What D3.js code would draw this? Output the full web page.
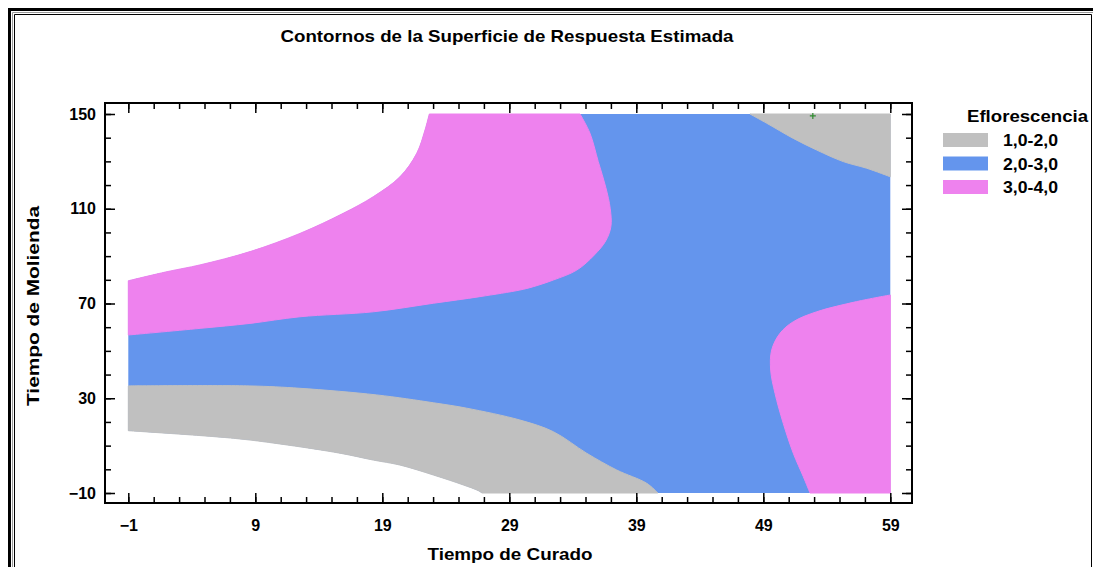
<!DOCTYPE html>
<html><head><meta charset="utf-8">
<script src="https://cdn.jsdelivr.net/npm/d3@7"></script>
<style>
body{margin:0;background:#fff;}
svg{display:block;font-family:"Liberation Sans",Arial,sans-serif;font-weight:bold;}
</style></head>
<body><svg id="c" width="1093" height="567"></svg>
<script>
// ---- data (Tiempo de Curado, Tiempo de Molienda) ----
const title = "Contornos de la Superficie de Respuesta Estimada";
const xTitle = "Tiempo de Curado";
const yTitle = "Tiempo de Molienda";
const legendTitle = "Eflorescencia";
const levels = ["1,0-2,0","2,0-3,0","3,0-4,0"];
const levelColors = ["#C0C0C0","#6495ED","#EE82EE"];
const xTicks = [-1,9,19,29,39,49,59];
const yTicks = [-10,30,70,110,150];
const xDomain = [-1,59];
const yDomain = [-10,150];

// contour boundaries
const lowerWhiteGray = [[-1,16.3],[7.27,13.1],[10.94,10.7],[15.67,6.8],[18.29,3.9],[20.39,1.8],[23.02,-2.4],[25.38,-6.6],[26.56,-9.0],[26.85,-10]];
const grayBlueLeft = [[-1,35.2],[8.58,35.2],[12.52,34.2],[18.56,31.4],[23.02,28.1],[25.65,25.8],[29.84,20.8],[32.46,15.9],[35.09,6.8],[37.46,-0.3],[39.82,-5.9],[40.7,-10]];
const bluePinkLeft = [[-1,56.7],[4.65,59.5],[8.58,61.6],[12.52,64.4],[18.29,66.5],[23.02,70.1],[26.69,72.9],[29.84,75.7],[30.89,77.1],[32.46,79.9],[34.31,84.1],[35.7,90.5],[36.6,96.5],[37.0,102.5],[36.95,110],[36.6,119],[36.0,130],[35.35,141.9],[34.57,150]];
const upperWhitePink = [[-1,79.6],[2.02,83.4],[4.65,86.3],[8.58,91.9],[12.52,99.6],[15.93,108.1],[18.29,115.1],[20.39,123.5],[21.71,133.4],[22.36,143.2],[22.7,150]];
const grayBlueTopRight = [[47.95,150],[49.27,146.1],[51.36,139.7],[53.2,134.8],[55.3,129.9],[57.14,127.1],[59,123.5]];
const bluePinkRight = [[59,73.6],[56.35,70.8],[53.2,66.5],[51.36,62.3],[50.31,57.4],[49.66,50.4],[49.58,41.9],[49.92,32.1],[50.57,19.4],[51.36,6.8],[52.15,-3.1],[52.68,-10]];
const marker = [52.9,149.2];

// ---- layout ----
const svg = d3.select("#c");
const frame = {l:105, t:103, r:912, b:503};
const x = d3.scaleLinear().domain(xDomain).range([128.3, 890.3]);
const y = d3.scaleLinear().domain(yDomain).range([493, 114]);

// outer window border
svg.append("path").attr("d","M9.5,567V9.5H1093").attr("fill","none").attr("stroke","#000").attr("stroke-width",3);
svg.append("path").attr("d","M12.5,567V12.5H1093").attr("fill","none").attr("stroke","#999").attr("stroke-width",1);
svg.append("path").attr("d","M14.5,567V14.5H1091.5V567").attr("fill","none").attr("stroke","#000").attr("stroke-width",1);

// title
svg.append("text").attr("x",507).attr("y",42).attr("text-anchor","middle")
  .attr("font-size",17).attr("textLength",453).attr("lengthAdjust","spacingAndGlyphs").text(title);

const g = svg.append("g");
const curve = d3.line().x(d=>x(d[0])).y(d=>y(d[1])).curve(d3.curveCatmullRom.alpha(0.5));
function region(pieces, fill, stroke){
  let d = "";
  pieces.forEach((p,i)=>{
    let s = p.smooth ? curve(p.pts) : "M" + p.pts.map(c=>x(c[0])+","+y(c[1])).join("L");
    if(i>0) s = "L" + s.slice(1);
    d += s;
  });
  d += "Z";
  g.append("path").attr("d",d).attr("fill",fill)
    .attr("stroke",stroke?fill:"none").attr("stroke-width",1).attr("stroke-linejoin","round");
}
const rev = a => a.slice().reverse();
// non-white area, level 2-3
region([
  {pts:upperWhitePink, smooth:true},
  {pts:[[59,150],[59,-10]]},
  {pts:rev(lowerWhiteGray), smooth:true}
], levelColors[1], false);
// level 1-2 bottom-left
region([
  {pts:grayBlueLeft, smooth:true},
  {pts:rev(lowerWhiteGray), smooth:true}
], levelColors[0], true);
// level 3-4 top-left
region([
  {pts:bluePinkLeft, smooth:true},
  {pts:rev(upperWhitePink), smooth:true}
], levelColors[2], true);
// level 1-2 top-right
region([{pts:grayBlueTopRight, smooth:true},{pts:[[59,150]]}], levelColors[0], true);
// level 3-4 right
region([{pts:bluePinkRight, smooth:true},{pts:[[59,-10]]}], levelColors[2], true);

// marker
svg.append("path").attr("d",`M${x(marker[0])-3},${y(marker[1])}h6M${x(marker[0])},${y(marker[1])-3}v6`)
  .attr("stroke","#2e8b2e").attr("stroke-width",1.2);

// axes
const xMinor = d3.range(-1,60,2);
const yMinor = d3.range(-10,151,10);
function axis(gen, tr, vals, size, labels){
  const a = svg.append("g").attr("transform",tr)
    .call(gen.tickValues(vals).tickSize(size).tickPadding(labels?labels:3).tickFormat(labels?d3.format("d"):""));
  a.select(".domain").remove();
  a.selectAll("line").attr("stroke","#000").attr("stroke-width",1.5);
  a.selectAll("text").attr("font-size",16).attr("font-family","Liberation Sans, Arial").attr("font-weight","bold").attr("fill","#000");
  return a;
}
axis(d3.axisBottom(x), `translate(0,${frame.b})`, xMinor, -6, 0);
axis(d3.axisBottom(x), `translate(0,${frame.b})`, xTicks, -10, 17);
axis(d3.axisTop(x), `translate(0,${frame.t})`, xMinor, -6, 0);
axis(d3.axisTop(x), `translate(0,${frame.t})`, xTicks, -10, 0);
axis(d3.axisLeft(y), `translate(${frame.l},0)`, yMinor, -6, 0);
axis(d3.axisLeft(y), `translate(${frame.l},0)`, yTicks, -10, 9);
axis(d3.axisRight(y), `translate(${frame.r},0)`, yMinor, -6, 0);
axis(d3.axisRight(y), `translate(${frame.r},0)`, yTicks, -10, 0);

svg.append("rect").attr("x",frame.l).attr("y",frame.t).attr("width",frame.r-frame.l).attr("height",frame.b-frame.t)
  .attr("fill","none").attr("stroke","#000").attr("stroke-width",2);

// axis titles
svg.append("text").attr("x",510).attr("y",560).attr("text-anchor","middle").attr("font-size",17)
  .attr("textLength",165).attr("lengthAdjust","spacingAndGlyphs").text(xTitle);
svg.append("text").attr("transform","translate(39,306) rotate(-90)").attr("text-anchor","middle").attr("font-size",17)
  .attr("textLength",200).attr("lengthAdjust","spacingAndGlyphs").text(yTitle);

// legend
svg.append("text").attr("x",1088).attr("y",122).attr("text-anchor","end").attr("font-size",17)
  .attr("textLength",121).attr("lengthAdjust","spacingAndGlyphs").text(legendTitle);
levels.forEach((lv,i)=>{
  const yy = 133 + i*23.5;
  svg.append("rect").attr("x",943).attr("y",yy).attr("width",45).attr("height",14).attr("fill",levelColors[i]);
  svg.append("text").attr("x",1003).attr("y",yy+13).attr("font-size",17)
    .attr("textLength",55).attr("lengthAdjust","spacingAndGlyphs").text(lv);
});
</script></body></html>
